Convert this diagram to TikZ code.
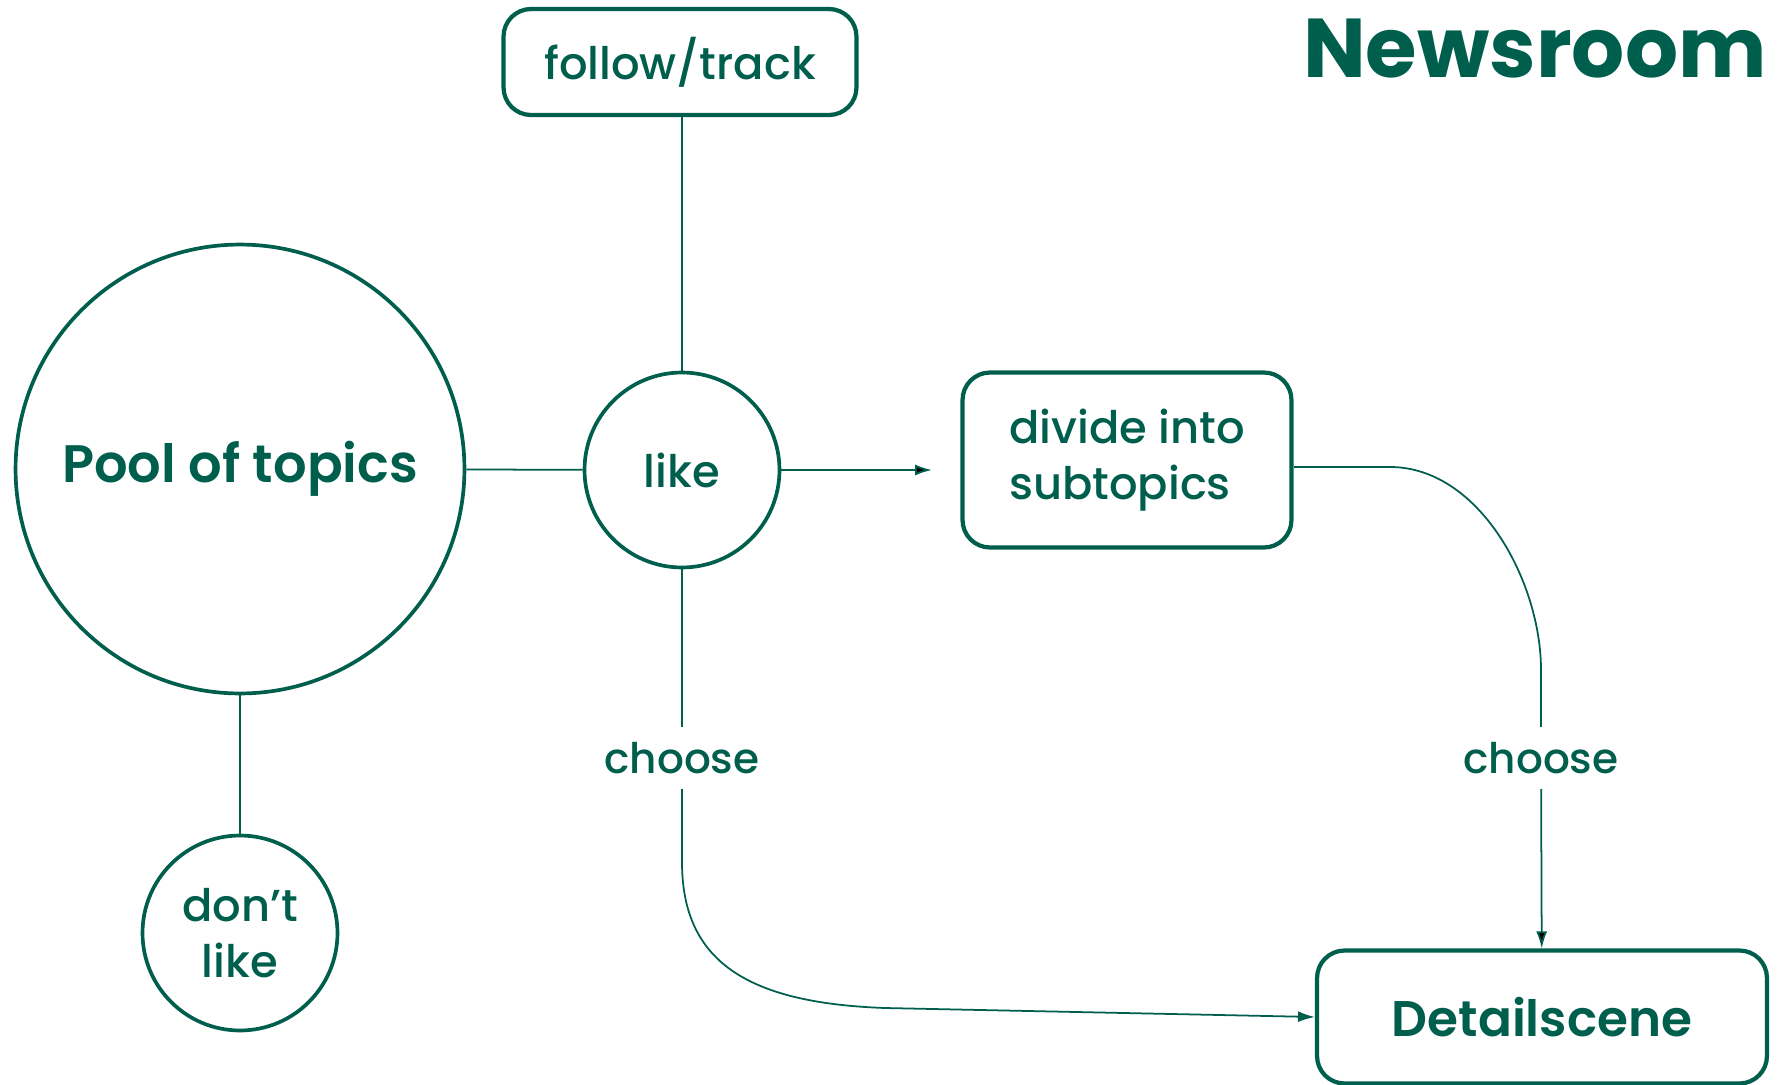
\documentclass[tikz,border=0pt]{standalone}
\usepackage{fontspec}
\setmainfont{Poppins}[UprightFont=* Medium, BoldFont=* SemiBold]
\newfontfamily\headfont{Poppins}[UprightFont=* Bold]
\usepackage{xcolor}
\usepackage{tikz}
\usetikzlibrary{
	arrows.meta,shapes
}
\definecolor{newsgreen}{RGB}{0,94,77}
\tikzset{
	word/.style={text=newsgreen,font=\fontsize{25.5}{32}\selectfont},
	bigword/.style={text=newsgreen,font=\bfseries\fontsize{#1}{34}\selectfont},
	ring/.style={circle,draw=newsgreen,line width=2.1pt,inner sep=0pt},
	card/.style={rectangle,rounded corners=0.55cm,draw=newsgreen,line width=2.4pt,inner sep=0pt},
	link/.style={draw=newsgreen,line width=1pt},
	pick/.style={text=newsgreen,font=\fontsize{24}{30}\selectfont,inner sep=0.3cm},
	tipped/.style={link,-{Latex[length=3.4mm,width=2.2mm]}}
}
\begin{document}
\begin{tikzpicture}[x=0.02cm,y=-0.02cm]
	\useasboundingbox (0,0) rectangle (1779,1085);
	% title
	\node[text=newsgreen,anchor=base east,inner sep=0pt,font=\headfont\fontsize{47.5}{56}\selectfont] (title) at (1767,77) {Newsroom};
	% nodes
	\node[ring,bigword=30,minimum size=8.98cm] (pool) at (240,469) {Pool of topics};
	\node[ring,word,minimum size=3.9cm] (like) at (682,470) {like};
	\node[ring,word,minimum size=3.9cm,align=center] (dislike) at (240,933) {don’t\\like};
	\node[card,word,minimum width=7.06cm,minimum height=2.12cm] (follow) at (680,62) {follow/track};
	\node[card,word,minimum width=6.58cm,minimum height=3.5cm,align=left] (divide) at (1127,460) {divide into\\subtopics};
	\node[card,bigword=28.5,minimum width=9cm,minimum height=2.66cm] (detail) at (1542,1017) {Detailscene};
	\node[pick] (choose) at (682,758) {choose};
	\node[pick] (choose') at (1541,758) {choose};
	\coordinate (tip) at (932,470);
	%
	\path[link]
	% plain lines
	(pool) edge (like)
	(pool) edge (dislike)
	(like.north) edge (like.north |- follow.south)
	(like) edge (choose)
	(divide.east |- 0,467) edge (1390,467)
	(1390,467) edge[out=0,in=90,looseness=0.9] (1541,670)
	(1541,670) edge (choose'.north);
	% arrows
	\path[tipped]
	(like) edge (tip)
	(choose') edge (detail);
	\draw[tipped] (choose.south) -- (682,862) .. controls (682,960) and (745,1003) .. (885,1008) -- (detail.west);
\end{tikzpicture}
\end{document}
